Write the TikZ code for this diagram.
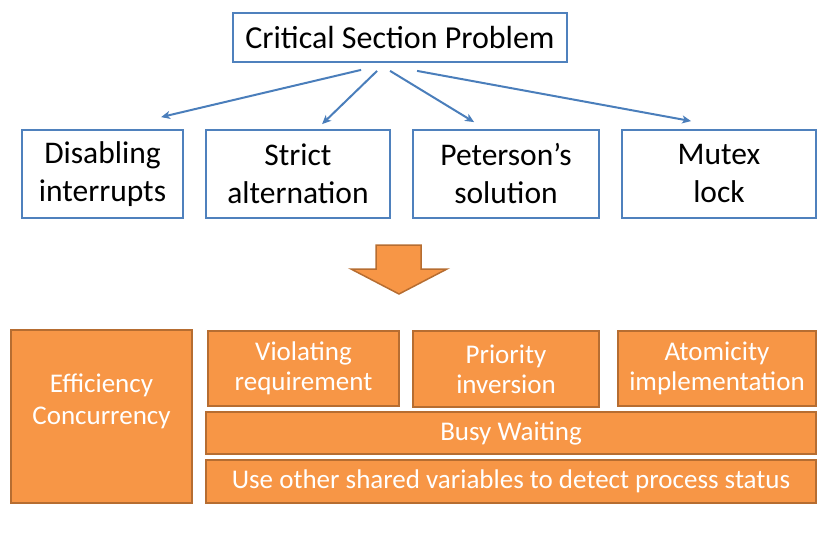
\documentclass[tikz,border=0pt]{standalone}
\usepackage{fontspec}
\setmainfont{Carlito}
\usetikzlibrary{arrows.meta,calc}
\definecolor{bblue}{HTML}{4F81BD}
\definecolor{ablue}{HTML}{4A7EBB}
\definecolor{ofill}{HTML}{F79646}
\definecolor{oline}{HTML}{B66D31}
\tikzset{
  bluebox/.style={draw=bblue,line width=1.8pt,fill=white,align=center,inner sep=0pt,text=black},
  orbox/.style={draw=oline,line width=1.5pt,fill=ofill,align=center,inner sep=0pt,text=white},
  conn/.style={draw=ablue,line width=2pt,-{Stealth[length=9pt,width=8pt,inset=2.5pt]}},
  toptxt/.style={font=\fontsize{32}{36}\selectfont},
  midtxt/.style={font=\fontsize{31.5}{38}\selectfont},
  bottxt/.style={font=\fontsize{27}{30}\selectfont},
}
\begin{document}
\begin{tikzpicture}[x=1pt,y=-1pt]
\useasboundingbox (0,0) rectangle (836,535);
% top
\node[bluebox,toptxt,minimum width=334pt,minimum height=49pt] (top) at (400,37.5) {Critical Section Problem};
% second row
\node[bluebox,midtxt,minimum width=161pt,minimum height=88pt] (dis) at (102.5,174) {Disabling\\interrupts};
\node[bluebox,midtxt,minimum width=184pt,minimum height=88pt] (str) at (298,174) {Strict\\alternation};
\node[bluebox,midtxt,minimum width=186pt,minimum height=88pt] (pet) at (506,174) {Peterson’s\\solution};
\node[bluebox,midtxt,minimum width=194pt,minimum height=88pt] (mut) at (719,174) {Mutex\\lock};
% connectors
\draw[conn] ([xshift=129pt,yshift=-7pt]top.south west) -- ([xshift=140pt,yshift=12pt]dis.north west);
\draw[conn] ([xshift=145pt,yshift=-8pt]top.south west) -- ([xshift=117pt,yshift=5pt]str.north west);
\draw[conn] ([xshift=158pt,yshift=-8pt]top.south west) -- ([xshift=62pt,yshift=7pt]pet.north west);
\draw[conn] ([xshift=185pt,yshift=-8pt]top.south west) -- ([xshift=70pt,yshift=8pt]mut.north west);
% big arrow
\draw[draw=oline,line width=1.5pt,fill=ofill,line join=miter]
  (376,245) -- (421,245) -- (421,269) -- (447,269) -- (399,294) -- (351,269) -- (376,269) -- cycle;
% bottom
\node[orbox,minimum width=181pt,minimum height=173pt] (eff) at (101.5,416.5) {};
\node[text=white,align=center,inner sep=0pt,font=\fontsize{27}{32}\selectfont] (efft) at (101.5,401) {Efficiency\\Concurrency};
\node[orbox,bottxt,minimum width=191pt,minimum height=75pt] (vio) at (303.5,368.5) {Violating\\requirement};
\node[orbox,bottxt,minimum width=186pt,minimum height=76pt] (pri) at (506,369) {Priority\\inversion};
\node[orbox,bottxt,minimum width=198pt,minimum height=75pt] (ato) at (717,368.5) {Atomicity\\implementation};
\node[orbox,bottxt,minimum width=610pt,minimum height=42pt] (busy) at (511,433) {Busy Waiting};
\node[orbox,bottxt,minimum width=610pt,minimum height=43pt] (use) at (511,481.5) {Use other shared variables to detect process status};
\end{tikzpicture}
\end{document}
